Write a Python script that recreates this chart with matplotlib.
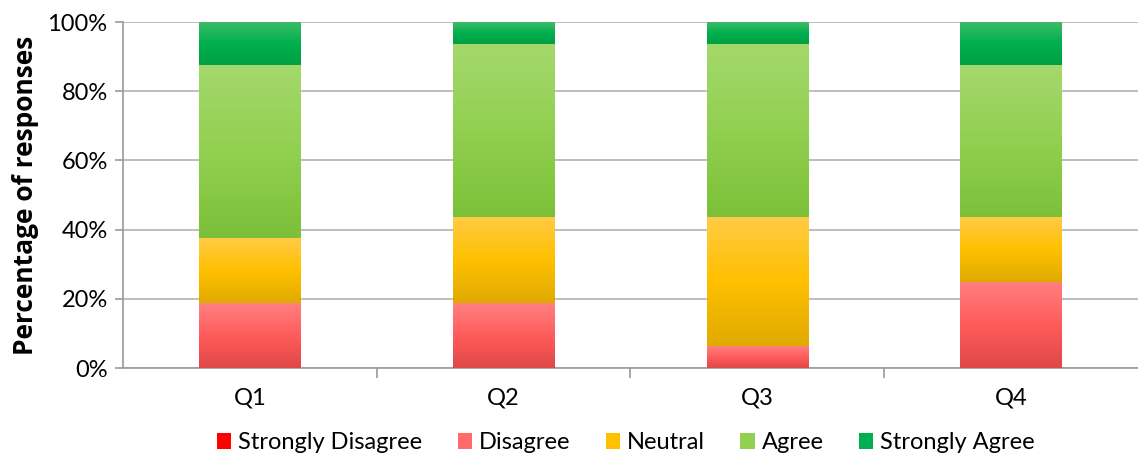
import matplotlib
matplotlib.use('Agg')
import matplotlib.pyplot as plt
from matplotlib.colors import LinearSegmentedColormap
from matplotlib.patches import Patch
from matplotlib.ticker import PercentFormatter
import numpy as np

plt.rcParams['font.family'] = ['Lato', 'DejaVu Sans']

questions = ['Q1', 'Q2', 'Q3', 'Q4']
levels = ['Strongly Disagree', 'Disagree', 'Neutral', 'Agree', 'Strongly Agree']

# share of responses per question (fractions of 1)
strongly_disagree = [0.0, 0.0, 0.0, 0.0]
disagree = [0.1875, 0.1875, 0.0625, 0.25]
neutral = [0.1875, 0.25, 0.375, 0.1875]
agree = [0.50, 0.50, 0.50, 0.4375]
strongly_agree = [0.125, 0.0625, 0.0625, 0.125]

series = [strongly_disagree, disagree, neutral, agree, strongly_agree]

# legend swatch colours and (top, middle, bottom) gradient stops for each level
solid = ['#FF0000', '#FF6B6B', '#FFC000', '#92D050', '#00B050']
stops = [
    ('#FF5050', '#FF0000', '#D00000'),
    ('#FF8080', '#FF5B5B', '#E04848'),
    ('#FFCB45', '#FFC000', '#E0AA00'),
    ('#A4D86C', '#92D050', '#7CC03A'),
    ('#3EBB68', '#00B050', '#00A042'),
]

fig = plt.figure(figsize=(11.38, 4.59), dpi=100)
ax = fig.add_axes([0.108, 0.198, 0.892, 0.754])

x = np.arange(len(questions))
width = 0.4
bottom = np.zeros(len(questions))
grad = np.linspace(0, 1, 64).reshape(-1, 1)

for vals, st in zip(series, stops):
    bars = ax.bar(x, vals, width, bottom=bottom, color='none', linewidth=0, zorder=3)
    cmap = LinearSegmentedColormap.from_list('g', [st[2], st[1], st[0]])
    for b in bars:
        if b.get_height() <= 0:
            continue
        x0, y0 = b.get_x(), b.get_y()
        ax.imshow(grad, cmap=cmap, origin='lower', aspect='auto',
                  extent=(x0, x0 + b.get_width(), y0, y0 + b.get_height()),
                  interpolation='bilinear', zorder=3)
    bottom += np.array(vals)

ax.set_xlim(-0.5, len(questions) - 0.5)
ax.set_ylim(0, 1)

ax.set_yticks(np.arange(0, 1.01, 0.2))
ax.yaxis.set_major_formatter(PercentFormatter(1, decimals=0))
ax.grid(axis='y', color='#B3B3B3', linewidth=1.2, zorder=0)
ax.set_axisbelow(True)

ax.set_xticks(x)
ax.set_xticklabels(questions)
ax.set_xticks(np.arange(0.5, len(questions) - 0.5, 1), minor=True)
ax.tick_params(axis='x', which='major', length=0, pad=14, labelsize=17)
ax.tick_params(axis='x', which='minor', length=7, color='#9A9A9A', width=1.2)
ax.tick_params(axis='y', length=6, color='#9A9A9A', width=1.2, labelsize=17, pad=5)

for s in ['top', 'right']:
    ax.spines[s].set_visible(False)
for s in ['left', 'bottom']:
    ax.spines[s].set_color('#9A9A9A')
    ax.spines[s].set_linewidth(1.2)

ax.set_ylabel('Percentage of responses', fontsize=19, fontweight='bold',
              family=['Open Sans', 'DejaVu Sans'], labelpad=6)

handles = [Patch(facecolor=c, edgecolor='none') for c in solid]
fig.legend(handles, levels, loc='center', bbox_to_anchor=(0.55, 0.035), ncol=5,
           frameon=False, fontsize=17, handlelength=0.6, handleheight=0.7,
           handletextpad=0.3, columnspacing=1.5)

fig.savefig('out.png', dpi=100)
